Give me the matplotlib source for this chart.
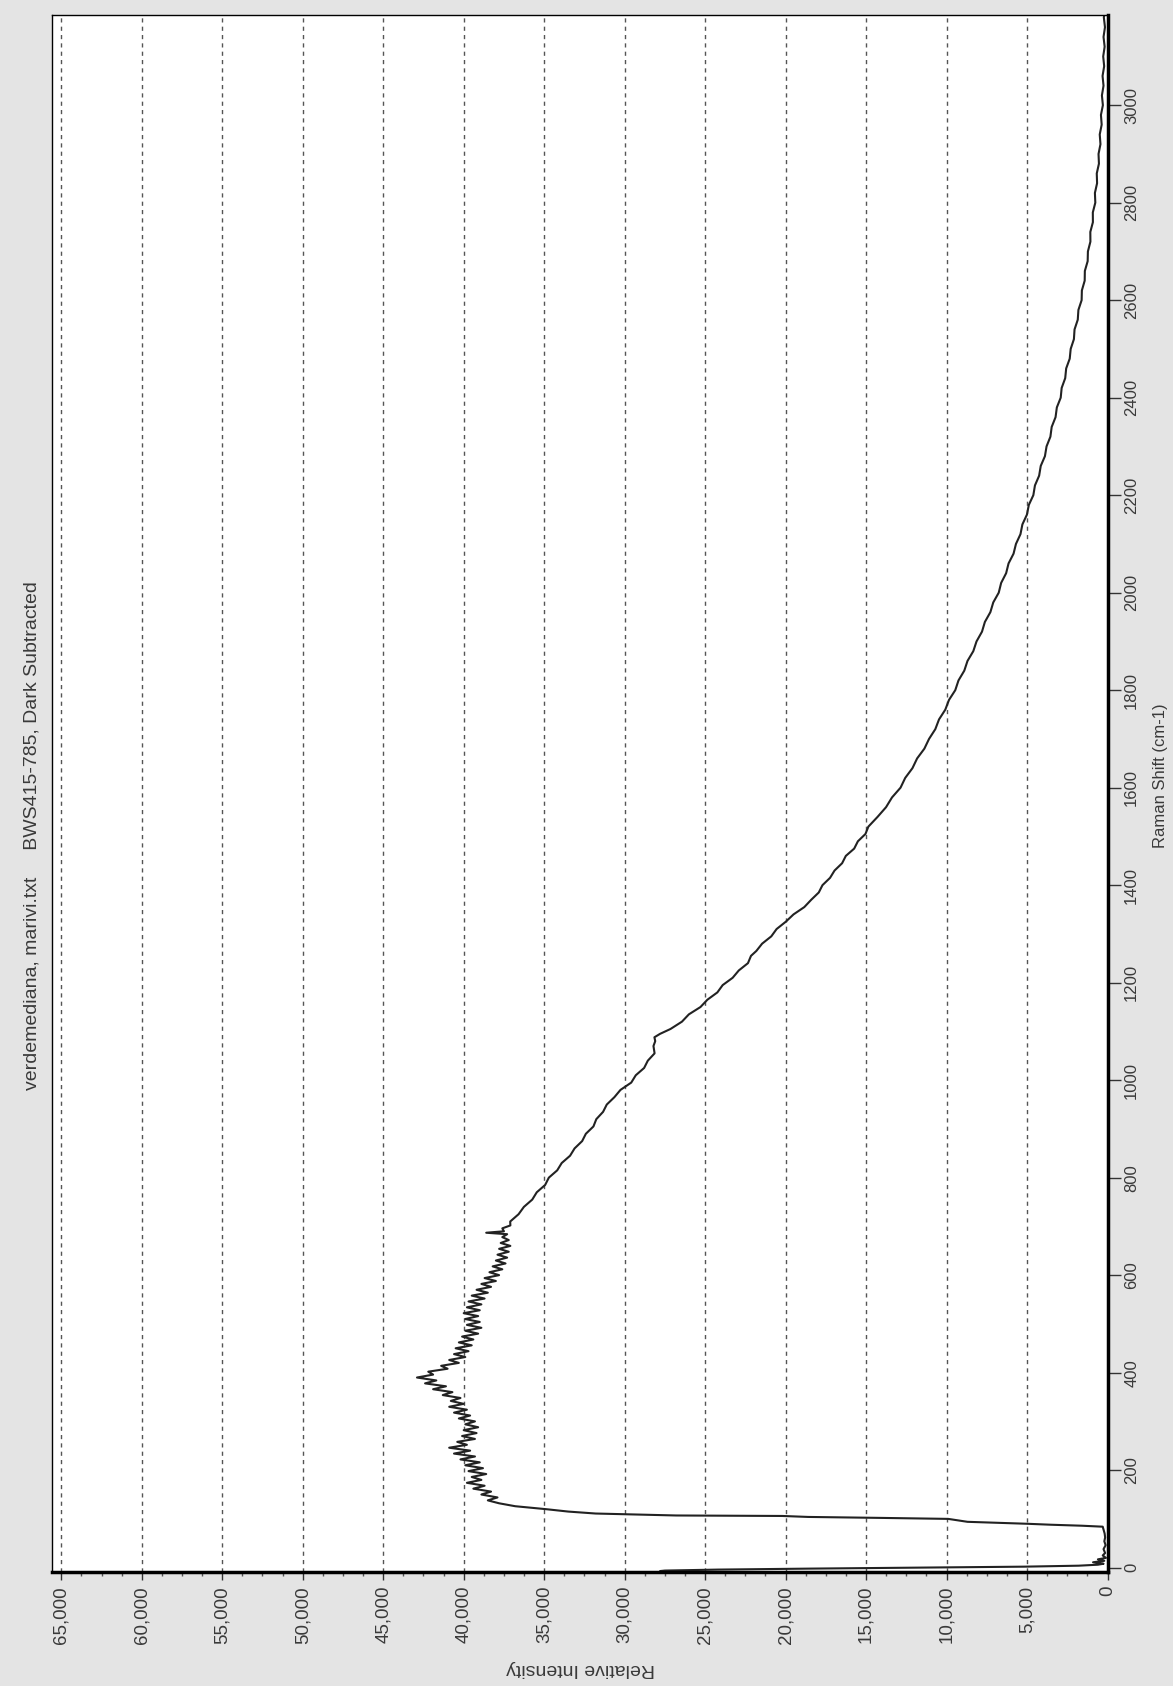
import matplotlib
matplotlib.use('Agg')
import matplotlib.pyplot as plt
from matplotlib.ticker import MultipleLocator, FuncFormatter

plt.rcParams['font.family'] = ['Liberation Sans', 'DejaVu Sans']

title = 'verdemediana, marivi.txt     BWS415-785, Dark Subtracted'
xlabel = 'Raman Shift (cm-1)'
ylabel = 'Relative Intensity'

# laser line residue and the flat part before the filter edge
rayleigh_shift = [-8, -7, -6, -4, -2, 0, 2, 4, 6, 8, 11, 14, 17, 20, 25, 30, 38, 46, 54, 62, 70, 78, 84]
rayleigh_int = [26900, 27800, 27500, 24200, 18500, 11500, 5200, 1800, 600, 250, 900, 200, 600, 100,
                300, 150, 250, 120, 200, 150, 180, 250, 300]

# filter edge
edge_shift = [86, 88, 90, 94, 100, 102, 104, 106, 107, 109, 111, 115, 120, 126]
edge_int = [1600, 3500, 5000, 8700, 9900, 14000, 18600, 20200, 26800, 29300, 31800, 33500, 34900, 36800]

# noisy plateau
plateau_shift = [132, 138, 144, 150, 156, 162, 168, 174, 180, 186, 192, 198, 204, 210, 216, 222, 228, 234,
                 240, 246, 252, 258, 264, 270, 276, 282, 288, 294, 300, 306, 312, 318, 324, 330, 336, 342,
                 348, 354, 360, 366, 372, 378, 384, 390, 396, 402, 408, 414, 420, 426, 432, 438, 444, 450,
                 456, 462, 468, 474, 480, 486, 492, 498, 504, 510, 516, 522, 528, 534, 540, 546, 552, 558,
                 564, 570, 576, 582, 588, 594, 600, 606, 612, 618, 624, 630, 636, 642, 648, 654, 660, 666,
                 672, 678, 684, 687, 690, 696, 702]
plateau_int = [37800, 38500, 37900, 38900, 38300, 39400, 38700, 39800, 38900, 39500, 38600, 39700, 38800,
               39900, 39000, 40200, 39300, 40600, 39600, 40900, 39800, 40400, 39300, 40100, 39200, 40000,
               39100, 39900, 39300, 40300, 39600, 40600, 39800, 40900, 40000, 40800, 40200, 41300, 40700,
               41900, 41100, 42400, 41700, 42900, 41900, 42200, 41000, 41400, 40300, 40900, 39900, 40600,
               39700, 40500, 39500, 40300, 39400, 40100, 39100, 39900, 38900, 39800, 39000, 39900, 39100,
               40000, 39000, 39800, 38900, 39700, 38700, 39500, 38500, 39200, 38300, 38900, 38000, 38700,
               37800, 38400, 37600, 38200, 37400, 38000, 37300, 37900, 37200, 37800, 37100, 37700, 37200,
               37600, 37300, 38600, 37500, 37600, 37100]

# fluorescence tail
tail_shift = [710, 725, 740, 755, 770, 785, 800, 815, 830, 845, 860, 875, 890, 905, 920, 935, 950, 965,
              980, 995, 1010, 1025, 1040, 1055, 1070, 1080, 1088, 1095, 1105, 1120, 1135, 1150, 1165,
              1180, 1195, 1210, 1225, 1240, 1255, 1265, 1280, 1295, 1310, 1325, 1340, 1355, 1370, 1385,
              1400, 1415, 1430, 1445, 1460, 1475, 1490, 1505, 1520, 1540, 1560, 1580, 1600, 1620, 1640,
              1660, 1680, 1700, 1720, 1740, 1760, 1780, 1800, 1820, 1840, 1860, 1880, 1900, 1920, 1940,
              1960, 1980, 2000, 2020, 2040, 2060, 2080, 2100, 2120, 2140, 2160, 2180, 2200, 2220, 2240,
              2260, 2280, 2300, 2320, 2340, 2360, 2380, 2400, 2420, 2440, 2460, 2480, 2500, 2520, 2540,
              2560, 2580, 2600, 2620, 2640, 2660, 2680, 2700, 2720, 2740, 2760, 2780, 2800, 2820, 2840,
              2860, 2880, 2900, 2920, 2940, 2960, 2980, 3000, 3020, 3040, 3060, 3080, 3100, 3120, 3140,
              3160, 3180, 3190]
tail_int = [37110, 36590, 36260, 35740, 35460, 34940, 34710, 34190, 33910, 33390, 33110, 32640, 32410,
            31940, 31760, 31340, 31110, 30640, 30260, 29590, 29310, 28790, 28560, 28140, 28210, 28100,
            28150, 27800, 27150, 26440, 26010, 25290, 24860, 24240, 23910, 23290, 22910, 22340, 22150,
            21820, 21460, 20890, 20560, 19990, 19510, 18840, 18410, 17940, 17710, 17240, 16960, 16490,
            16260, 15740, 15510, 15040, 14860, 14290, 13760, 13390, 12860, 12570, 12120, 11830, 11380,
            11090, 10700, 10470, 10080, 9850, 9460, 9260, 8900, 8700, 8340, 8140, 7800, 7620, 7280, 7100,
            6760, 6610, 6300, 6150, 5840, 5690, 5410, 5290, 5010, 4890, 4610, 4510, 4250, 4150, 3890,
            3790, 3550, 3470, 3230, 3150, 2910, 2850, 2630, 2570, 2350, 2290, 2090, 2050, 1850, 1810,
            1610, 1595, 1420, 1410, 1235, 1220, 1065, 1070, 910, 915, 760, 785, 650, 670, 535, 560, 440,
            485, 365, 410, 290, 350, 250, 310, 210, 270, 180, 250, 160, 230, 180]

shift = rayleigh_shift + edge_shift + plateau_shift + tail_shift
intensity = rayleigh_int + edge_int + plateau_int + tail_int

fig = plt.figure(figsize=(11.73, 16.86), dpi=100, facecolor='#e4e4e4')
ax = fig.add_axes([0.044, 0.0676, 0.9002, 0.9235])
ax.set_facecolor('white')

# chart is turned on its side: intensity runs right-to-left, shift runs upwards
ax.plot(intensity, shift, color='#222222', lw=1.5)

ax.set_xlim(65600, 0)
ax.set_ylim(-9, 3185)

ax.xaxis.set_major_locator(MultipleLocator(5000))
ax.xaxis.set_minor_locator(MultipleLocator(1250))
ax.xaxis.set_major_formatter(FuncFormatter(lambda v, p: '{:,}'.format(int(v))))
ax.yaxis.set_major_locator(MultipleLocator(200))
ax.yaxis.tick_right()

ax.grid(axis='x', which='major', linestyle=(0, (3, 3)), color='#555555', lw=1.0)

ax.tick_params(axis='x', which='major', direction='out', length=6, width=1, color='#333333',
               labelsize=13.5, labelcolor='#3a3a3a', labelrotation=90, pad=4)
ax.tick_params(axis='x', which='minor', direction='out', length=3, width=1, color='#555555')
ax.tick_params(axis='y', which='major', direction='out', length=9, width=1, color='#333333',
               labelsize=12, labelcolor='#3a3a3a', labelrotation=90, pad=3)
for lab in ax.get_yticklabels():
    lab.set_va('center')

for side in ['top', 'left']:
    ax.spines[side].set_linewidth(1.0)
for side in ['bottom', 'right']:
    ax.spines[side].set_linewidth(2.5)

fig.text(32 / 1173, 1 - 836 / 1686, title, rotation=90, ha='center', va='center',
         fontsize=14, color='#3a3a3a')
fig.text(1161 / 1173, 1 - 776 / 1686, xlabel, rotation=90, ha='center', va='center',
         fontsize=12, color='#3a3a3a')
fig.text(581 / 1173, 1 - 1669 / 1686, ylabel, rotation=180, ha='center', va='center',
         fontsize=14, color='#3a3a3a')

fig.savefig('out.png', dpi=100, facecolor=fig.get_facecolor())
